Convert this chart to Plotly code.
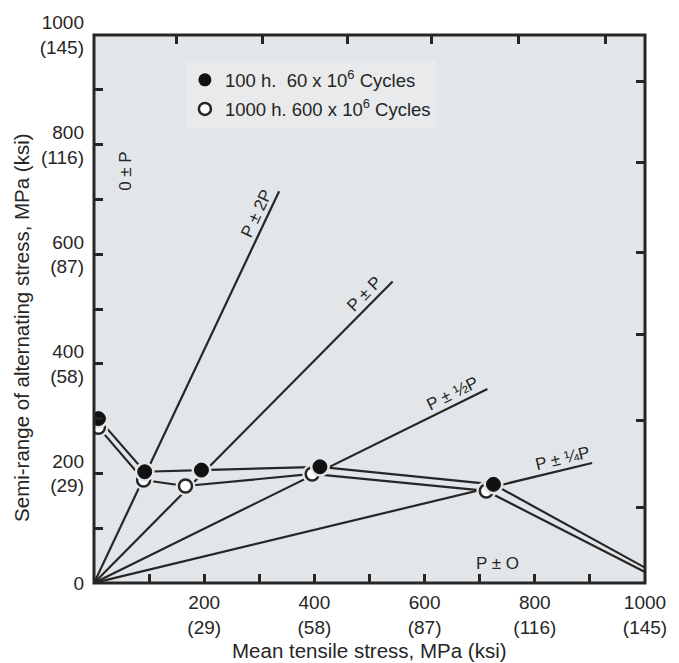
import math
import plotly.graph_objects as go

# ---- data (MPa) ----
mean_100h = [8, 92, 195, 410, 725, 1000]
amp_100h = [300, 203, 206, 212, 180, 28]
mean_1000h = [8, 90, 166, 396, 712, 1000]
amp_1000h = [284, 188, 177, 199, 168, 20]

# radial load-ratio lines (end points; all start at origin)
ratio_names = ["P ± 2P", "P ± P", "P ± ½P", "P ± ¼P"]
ratio_end_mean = [336, 542, 714, 904]
ratio_end_amp = [715, 550, 354, 219]
ratio_label_mean = [313, 506, 660, 855]   # where the label sits along each line

x_tickvals = [0, 100, 200, 300, 400, 500, 600, 700, 800, 900, 1000]
x_ticktext = ["", "", "200<br>(29)", "", "400<br>(58)", "", "600<br>(87)", "",
              "800<br>(116)", "", "1000<br>(145)"]
y_tickvals = [0, 100, 200, 300, 400, 500, 600, 700, 800, 900, 1000]
y_ticktext = ["0", "", "200<br>(29)", "", "400<br>(58)", "", "600<br>(87)", "",
              "800<br>(116)", "", "1000<br>(145)"]
top_ticks = [150, 305, 460, 612, 770, 928]
right_ticks = [138, 297, 454, 603, 767, 916]

BG = "#e3e6e9"
INK = "#262626"
FONT = "Liberation Sans, Arial, sans-serif"

W, H = 679, 663
ML, MR, MT, MB = 94, 33, 29, 80
PW, PH = W - ML - MR, H - MT - MB

fig = go.Figure()

for xe, ye in zip(ratio_end_mean, ratio_end_amp):
    fig.add_trace(go.Scatter(x=[0, xe], y=[0, ye], mode="lines",
                             line=dict(color=INK, width=2.2),
                             showlegend=False, hoverinfo="skip"))

fig.add_trace(go.Scatter(x=mean_1000h, y=amp_1000h, mode="lines",
                         line=dict(color=INK, width=2.2), showlegend=False))
fig.add_trace(go.Scatter(x=mean_100h, y=amp_100h, mode="lines",
                         line=dict(color=INK, width=2.2), showlegend=False))

# halos + markers (open first, filled on top)
fig.add_trace(go.Scatter(x=mean_1000h[:-1], y=amp_1000h[:-1], mode="markers",
                         marker=dict(size=20, color=BG), showlegend=False, hoverinfo="skip"))
fig.add_trace(go.Scatter(x=mean_1000h[:-1], y=amp_1000h[:-1], mode="markers",
                         marker=dict(size=13, color="white", line=dict(color=INK, width=2.5)),
                         showlegend=False))
fig.add_trace(go.Scatter(x=mean_100h[:-1], y=amp_100h[:-1], mode="markers",
                         marker=dict(size=20, color=BG), showlegend=False, hoverinfo="skip"))
fig.add_trace(go.Scatter(x=mean_100h[:-1], y=amp_100h[:-1], mode="markers",
                         marker=dict(size=14, color="#111111", line=dict(color="#111111", width=1)),
                         showlegend=False))

# legend entries
fig.add_trace(go.Scatter(x=[None], y=[None], mode="markers", legendgroup="a",
                         marker=dict(size=13, color="#111111"),
                         name="100 h.&nbsp;&nbsp;60 x 10<sup>6</sup> Cycles"))
fig.add_trace(go.Scatter(x=[None], y=[None], mode="markers", legendgroup="b",
                         marker=dict(size=12, color="white", line=dict(color=INK, width=2.5)),
                         name="1000 h. 600 x 10<sup>6</sup> Cycles"))

# dummy trace for secondary (top/right) tick axes
fig.add_trace(go.Scatter(x=[None], y=[None], xaxis="x2", yaxis="y2", showlegend=False))

ann_font = dict(family=FONT, size=17, color=INK)
annotations = []
offset_px = 11
for name, xe, ye, xl in zip(ratio_names, ratio_end_mean, ratio_end_amp, ratio_label_mean):
    r = ye / xe
    dx, dy = PW / 1000, r * PH / 1000          # screen direction (up = positive)
    n = math.hypot(dx, dy)
    ang = math.degrees(math.atan2(dy, dx))
    px, py = -dy / n, dx / n                   # perpendicular, up-left
    annotations.append(dict(text=name, x=xl, y=r * xl, xref="x", yref="y",
                            showarrow=False, textangle=-ang, font=ann_font,
                            xshift=px * offset_px, yshift=py * offset_px))
annotations.append(dict(text="P ± O", x=732, y=36, xref="x", yref="y",
                        showarrow=False, font=ann_font))
annotations.append(dict(text="0 ± P", x=58, y=752, xref="x", yref="y",
                        showarrow=False, textangle=-90, font=ann_font))
annotations.append(dict(text="Mean tensile stress, MPa (ksi)", xref="paper", yref="paper",
                        x=0.5, y=-(651 - (H - MB)) / PH, xanchor="center", yanchor="middle",
                        showarrow=False, font=dict(family=FONT, size=20.5, color=INK)))
annotations.append(dict(text="Semi-range of alternating stress, MPa (ksi)", xref="paper",
                        yref="paper", x=(22 - ML) / PW, y=(H - MB - 325) / PH,
                        xanchor="center", yanchor="middle", showarrow=False, textangle=-90,
                        font=dict(family=FONT, size=20.5, color=INK)))

axis_common = dict(showgrid=False, zeroline=False, showline=False,
                   ticks="inside", ticklen=9, tickwidth=3, tickcolor=INK,
                   tickfont=dict(family=FONT, size=19, color=INK))

fig.update_layout(
    width=W, height=H,
    margin=dict(l=ML, r=MR, t=MT, b=MB),
    paper_bgcolor="white", plot_bgcolor=BG,
    font=dict(family=FONT, color=INK),
    annotations=annotations,
    shapes=[dict(type="rect", xref="paper", yref="paper", x0=0, y0=0, x1=1, y1=1,
                 line=dict(color=INK, width=3), layer="above")],
    xaxis=dict(range=[0, 1000], tickmode="array", tickvals=x_tickvals,
               ticktext=x_ticktext, ticklabelstandoff=6, **axis_common),
    yaxis=dict(range=[0, 1000], tickmode="array", tickvals=y_tickvals,
               ticktext=y_ticktext, ticklabelstandoff=9, **axis_common),
    xaxis2=dict(range=[0, 1000], overlaying="x", side="top", tickmode="array",
                tickvals=top_ticks, ticks="inside", ticklen=9, tickwidth=3,
                tickcolor=INK, showticklabels=False, showgrid=False, zeroline=False),
    yaxis2=dict(range=[0, 1000], overlaying="y", side="right", anchor="x", tickmode="array",
                tickvals=right_ticks, ticks="inside", ticklen=9, tickwidth=3,
                tickcolor=INK, showticklabels=False, showgrid=False, zeroline=False),
    legend=dict(x=0.165, y=0.952, xanchor="left", yanchor="top",
                bgcolor="#e8eaeb", borderwidth=0,
                font=dict(family=FONT, size=18.5, color=INK),
                tracegroupgap=2, itemwidth=30),
)

fig.write_html("out.html")
